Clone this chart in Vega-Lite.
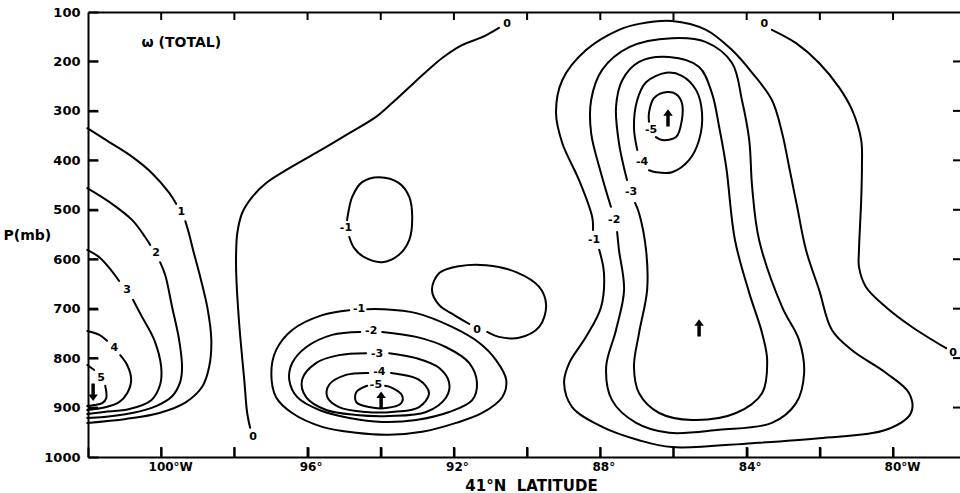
{
"$schema": "https://vega.github.io/schema/vega-lite/v6.json",
"autosize": "none",
"width": 872,
"height": 445,
"padding": {"left": 88, "top": 12, "right": 0, "bottom": 36},
"background": "white",
"config": {
  "view": {"stroke": null},
  "axis": {"gridOpacity": 0, "domainColor": "black", "tickColor": "black", "labelColor": "black", "titleColor": "black", "labelFont": "DejaVu Sans", "titleFont": "DejaVu Sans", "labelFontWeight": "bold", "titleFontWeight": "bold", "domainWidth": 2, "tickWidth": 2}
},
"datasets": {
  "lines": [
    {"seg":"c1a","i":0,"lon":102.02,"p":335},{"seg":"c1a","i":1,"lon":101.42,"p":363},{"seg":"c1a","i":2,"lon":100.79,"p":393},{"seg":"c1a","i":3,"lon":100.25,"p":426},{"seg":"c1a","i":4,"lon":99.78,"p":466},{"seg":"c1a","i":5,"lon":99.59,"p":488},
    {"seg":"c1b","i":0,"lon":99.34,"p":523},{"seg":"c1b","i":1,"lon":99.23,"p":551},{"seg":"c1b","i":2,"lon":99.13,"p":581},{"seg":"c1b","i":3,"lon":98.96,"p":628},{"seg":"c1b","i":4,"lon":98.74,"p":697},{"seg":"c1b","i":5,"lon":98.63,"p":763},{"seg":"c1b","i":6,"lon":98.69,"p":818},{"seg":"c1b","i":7,"lon":98.88,"p":858},{"seg":"c1b","i":8,"lon":99.32,"p":889},{"seg":"c1b","i":9,"lon":100.05,"p":911},{"seg":"c1b","i":10,"lon":100.96,"p":923},{"seg":"c1b","i":11,"lon":102.02,"p":931},
    {"seg":"c2a","i":0,"lon":102.02,"p":456},{"seg":"c2a","i":1,"lon":101.42,"p":484},{"seg":"c2a","i":2,"lon":100.79,"p":521},{"seg":"c2a","i":3,"lon":100.44,"p":555},{"seg":"c2a","i":4,"lon":100.30,"p":571},
    {"seg":"c2b","i":0,"lon":100.03,"p":606},{"seg":"c2b","i":1,"lon":99.89,"p":632},{"seg":"c2b","i":2,"lon":99.70,"p":697},{"seg":"c2b","i":3,"lon":99.51,"p":763},{"seg":"c2b","i":4,"lon":99.43,"p":818},{"seg":"c2b","i":5,"lon":99.48,"p":848},{"seg":"c2b","i":6,"lon":99.70,"p":877},{"seg":"c2b","i":7,"lon":100.14,"p":897},{"seg":"c2b","i":8,"lon":100.79,"p":911},{"seg":"c2b","i":9,"lon":101.56,"p":919},{"seg":"c2b","i":10,"lon":102.02,"p":921},
    {"seg":"c3a","i":0,"lon":102.02,"p":581},{"seg":"c3a","i":1,"lon":101.69,"p":596},{"seg":"c3a","i":2,"lon":101.37,"p":622},{"seg":"c3a","i":3,"lon":101.15,"p":644},
    {"seg":"c3b","i":0,"lon":100.77,"p":682},{"seg":"c3b","i":1,"lon":100.55,"p":713},{"seg":"c3b","i":2,"lon":100.19,"p":763},{"seg":"c3b","i":3,"lon":100.00,"p":818},{"seg":"c3b","i":4,"lon":100.03,"p":854},{"seg":"c3b","i":5,"lon":100.27,"p":885},{"seg":"c3b","i":6,"lon":100.87,"p":903},{"seg":"c3b","i":7,"lon":101.56,"p":909},{"seg":"c3b","i":8,"lon":102.02,"p":913},
    {"seg":"c4a","i":0,"lon":102.02,"p":745},{"seg":"c4a","i":1,"lon":101.69,"p":753},{"seg":"c4a","i":2,"lon":101.48,"p":765},
    {"seg":"c4b","i":0,"lon":101.12,"p":794},{"seg":"c4b","i":1,"lon":100.93,"p":814},{"seg":"c4b","i":2,"lon":100.82,"p":844},{"seg":"c4b","i":3,"lon":100.93,"p":871},{"seg":"c4b","i":4,"lon":101.15,"p":889},{"seg":"c4b","i":5,"lon":101.50,"p":899},{"seg":"c4b","i":6,"lon":102.02,"p":905},
    {"seg":"c5a","i":0,"lon":102.02,"p":814},{"seg":"c5a","i":1,"lon":101.83,"p":824},
    {"seg":"c5b","i":0,"lon":101.53,"p":856},{"seg":"c5b","i":1,"lon":101.50,"p":881},{"seg":"c5b","i":2,"lon":101.61,"p":891},{"seg":"c5b","i":3,"lon":101.83,"p":895},{"seg":"c5b","i":4,"lon":102.02,"p":897},
    {"seg":"z0L","i":0,"lon":97.57,"p":941},{"seg":"z0L","i":1,"lon":97.65,"p":911},{"seg":"z0L","i":2,"lon":97.73,"p":844},{"seg":"z0L","i":3,"lon":97.87,"p":729},{"seg":"z0L","i":4,"lon":97.95,"p":628},{"seg":"z0L","i":5,"lon":97.95,"p":581},{"seg":"z0L","i":6,"lon":97.92,"p":547},{"seg":"z0L","i":7,"lon":97.79,"p":507},{"seg":"z0L","i":8,"lon":97.51,"p":474},{"seg":"z0L","i":9,"lon":97.13,"p":446},{"seg":"z0L","i":10,"lon":96.59,"p":420},{"seg":"z0L","i":11,"lon":95.77,"p":385},{"seg":"z0L","i":12,"lon":94.86,"p":345},{"seg":"z0L","i":13,"lon":94.13,"p":312},{"seg":"z0L","i":14,"lon":93.69,"p":284},{"seg":"z0L","i":15,"lon":93.22,"p":252},{"seg":"z0L","i":16,"lon":92.76,"p":221},{"seg":"z0L","i":17,"lon":92.32,"p":193},{"seg":"z0L","i":18,"lon":91.78,"p":167},{"seg":"z0L","i":19,"lon":91.23,"p":151},{"seg":"z0L","i":20,"lon":90.77,"p":132},
    {"seg":"m1U","i":0,"lon":94.86,"p":555},{"seg":"m1U","i":1,"lon":94.73,"p":577},{"seg":"m1U","i":2,"lon":94.45,"p":596},{"seg":"m1U","i":3,"lon":93.96,"p":606},{"seg":"m1U","i":4,"lon":93.50,"p":591},{"seg":"m1U","i":5,"lon":93.22,"p":561},{"seg":"m1U","i":6,"lon":93.14,"p":515},{"seg":"m1U","i":7,"lon":93.22,"p":474},{"seg":"m1U","i":8,"lon":93.50,"p":446},{"seg":"m1U","i":9,"lon":94.04,"p":434},{"seg":"m1U","i":10,"lon":94.51,"p":444},{"seg":"m1U","i":11,"lon":94.78,"p":474},{"seg":"m1U","i":12,"lon":94.89,"p":507},{"seg":"m1U","i":13,"lon":94.92,"p":521},
    {"seg":"z0M","i":0,"lon":91.58,"p":731},{"seg":"z0M","i":1,"lon":91.99,"p":713},{"seg":"z0M","i":2,"lon":92.40,"p":693},{"seg":"z0M","i":3,"lon":92.60,"p":662},{"seg":"z0M","i":4,"lon":92.40,"p":628},{"seg":"z0M","i":5,"lon":91.86,"p":614},{"seg":"z0M","i":6,"lon":91.12,"p":612},{"seg":"z0M","i":7,"lon":90.30,"p":626},{"seg":"z0M","i":8,"lon":89.67,"p":656},{"seg":"z0M","i":9,"lon":89.48,"p":693},{"seg":"z0M","i":10,"lon":89.67,"p":737},{"seg":"z0M","i":11,"lon":90.22,"p":759},{"seg":"z0M","i":12,"lon":90.77,"p":757},{"seg":"z0M","i":13,"lon":91.09,"p":747},
    {"seg":"m1L","i":0,"lon":94.37,"p":701},{"seg":"m1L","i":1,"lon":93.96,"p":701},{"seg":"m1L","i":2,"lon":93.03,"p":709},{"seg":"m1L","i":3,"lon":92.05,"p":737},{"seg":"m1L","i":4,"lon":91.31,"p":769},{"seg":"m1L","i":5,"lon":90.85,"p":804},{"seg":"m1L","i":6,"lon":90.57,"p":844},{"seg":"m1L","i":7,"lon":90.68,"p":879},{"seg":"m1L","i":8,"lon":91.23,"p":911},{"seg":"m1L","i":9,"lon":91.94,"p":931},{"seg":"m1L","i":10,"lon":92.87,"p":949},{"seg":"m1L","i":11,"lon":93.77,"p":955},{"seg":"m1L","i":12,"lon":94.67,"p":951},{"seg":"m1L","i":13,"lon":95.60,"p":939},{"seg":"m1L","i":14,"lon":96.42,"p":911},{"seg":"m1L","i":15,"lon":96.86,"p":879},{"seg":"m1L","i":16,"lon":96.99,"p":830},{"seg":"m1L","i":17,"lon":96.86,"p":784},{"seg":"m1L","i":18,"lon":96.42,"p":743},{"seg":"m1L","i":19,"lon":95.60,"p":713},{"seg":"m1L","i":20,"lon":94.86,"p":703},
    {"seg":"m2L","i":0,"lon":93.96,"p":747},{"seg":"m2L","i":1,"lon":93.03,"p":757},{"seg":"m2L","i":2,"lon":92.21,"p":778},{"seg":"m2L","i":3,"lon":91.58,"p":810},{"seg":"m2L","i":4,"lon":91.37,"p":850},{"seg":"m2L","i":5,"lon":91.50,"p":885},{"seg":"m2L","i":6,"lon":92.13,"p":909},{"seg":"m2L","i":7,"lon":93.03,"p":925},{"seg":"m2L","i":8,"lon":93.96,"p":929},{"seg":"m2L","i":9,"lon":94.86,"p":921},{"seg":"m2L","i":10,"lon":95.68,"p":905},{"seg":"m2L","i":11,"lon":96.28,"p":879},{"seg":"m2L","i":12,"lon":96.50,"p":844},{"seg":"m2L","i":13,"lon":96.42,"p":810},{"seg":"m2L","i":14,"lon":96.04,"p":778},{"seg":"m2L","i":15,"lon":95.33,"p":753},{"seg":"m2L","i":16,"lon":94.56,"p":747},
    {"seg":"m3L","i":0,"lon":93.77,"p":790},{"seg":"m3L","i":1,"lon":93.03,"p":800},{"seg":"m3L","i":2,"lon":92.40,"p":820},{"seg":"m3L","i":3,"lon":92.13,"p":850},{"seg":"m3L","i":4,"lon":92.21,"p":879},{"seg":"m3L","i":5,"lon":92.76,"p":909},{"seg":"m3L","i":6,"lon":93.77,"p":917},{"seg":"m3L","i":7,"lon":94.67,"p":915},{"seg":"m3L","i":8,"lon":95.49,"p":905},{"seg":"m3L","i":9,"lon":96.04,"p":879},{"seg":"m3L","i":10,"lon":96.15,"p":844},{"seg":"m3L","i":11,"lon":95.77,"p":810},{"seg":"m3L","i":12,"lon":95.14,"p":794},{"seg":"m3L","i":13,"lon":94.40,"p":790},
    {"seg":"m4L","i":0,"lon":93.72,"p":830},{"seg":"m4L","i":1,"lon":92.95,"p":844},{"seg":"m4L","i":2,"lon":92.68,"p":871},{"seg":"m4L","i":3,"lon":92.95,"p":899},{"seg":"m4L","i":4,"lon":93.69,"p":909},{"seg":"m4L","i":5,"lon":94.40,"p":909},{"seg":"m4L","i":6,"lon":95.14,"p":899},{"seg":"m4L","i":7,"lon":95.46,"p":879},{"seg":"m4L","i":8,"lon":95.41,"p":854},{"seg":"m4L","i":9,"lon":94.95,"p":834},{"seg":"m4L","i":10,"lon":94.34,"p":830},
    {"seg":"m5L","i":0,"lon":93.88,"p":856},{"seg":"m5L","i":1,"lon":93.69,"p":860},{"seg":"m5L","i":2,"lon":93.42,"p":875},{"seg":"m5L","i":3,"lon":93.44,"p":891},{"seg":"m5L","i":4,"lon":93.85,"p":901},{"seg":"m5L","i":5,"lon":94.32,"p":899},{"seg":"m5L","i":6,"lon":94.67,"p":889},{"seg":"m5L","i":7,"lon":94.67,"p":869},{"seg":"m5L","i":8,"lon":94.37,"p":856},
    {"seg":"m1R","i":0,"lon":88.03,"p":581},{"seg":"m1R","i":1,"lon":87.90,"p":628},{"seg":"m1R","i":2,"lon":87.98,"p":697},{"seg":"m1R","i":3,"lon":88.39,"p":757},{"seg":"m1R","i":4,"lon":88.85,"p":810},{"seg":"m1R","i":5,"lon":88.99,"p":850},{"seg":"m1R","i":6,"lon":88.77,"p":899},{"seg":"m1R","i":7,"lon":87.95,"p":939},{"seg":"m1R","i":8,"lon":86.94,"p":966},{"seg":"m1R","i":9,"lon":86.04,"p":980},{"seg":"m1R","i":10,"lon":83.85,"p":972},{"seg":"m1R","i":11,"lon":82.02,"p":962},{"seg":"m1R","i":12,"lon":80.19,"p":945},{"seg":"m1R","i":13,"lon":79.51,"p":911},{"seg":"m1R","i":14,"lon":79.56,"p":871},{"seg":"m1R","i":15,"lon":80.19,"p":830},{"seg":"m1R","i":16,"lon":81.12,"p":784},{"seg":"m1R","i":17,"lon":81.67,"p":743},{"seg":"m1R","i":18,"lon":82.02,"p":662},{"seg":"m1R","i":19,"lon":82.38,"p":581},{"seg":"m1R","i":20,"lon":82.62,"p":494},{"seg":"m1R","i":21,"lon":82.84,"p":413},{"seg":"m1R","i":22,"lon":83.03,"p":345},{"seg":"m1R","i":23,"lon":83.31,"p":278},{"seg":"m1R","i":24,"lon":83.85,"p":223},{"seg":"m1R","i":25,"lon":84.40,"p":177},{"seg":"m1R","i":26,"lon":85.11,"p":136},{"seg":"m1R","i":27,"lon":86.04,"p":118},{"seg":"m1R","i":28,"lon":86.94,"p":124},{"seg":"m1R","i":29,"lon":87.49,"p":136},{"seg":"m1R","i":30,"lon":88.39,"p":177},{"seg":"m1R","i":31,"lon":89.04,"p":238},{"seg":"m1R","i":32,"lon":89.21,"p":304},{"seg":"m1R","i":33,"lon":89.04,"p":365},{"seg":"m1R","i":34,"lon":88.58,"p":440},{"seg":"m1R","i":35,"lon":88.22,"p":515},{"seg":"m1R","i":36,"lon":88.20,"p":541},
    {"seg":"m2R","i":0,"lon":87.54,"p":545},{"seg":"m2R","i":1,"lon":87.49,"p":581},{"seg":"m2R","i":2,"lon":87.35,"p":662},{"seg":"m2R","i":3,"lon":87.57,"p":743},{"seg":"m2R","i":4,"lon":87.84,"p":818},{"seg":"m2R","i":5,"lon":87.68,"p":885},{"seg":"m2R","i":6,"lon":87.02,"p":931},{"seg":"m2R","i":7,"lon":86.12,"p":951},{"seg":"m2R","i":8,"lon":84.75,"p":945},{"seg":"m2R","i":9,"lon":83.31,"p":931},{"seg":"m2R","i":10,"lon":82.65,"p":891},{"seg":"m2R","i":11,"lon":82.43,"p":830},{"seg":"m2R","i":12,"lon":82.57,"p":763},{"seg":"m2R","i":13,"lon":83.03,"p":697},{"seg":"m2R","i":14,"lon":83.66,"p":561},{"seg":"m2R","i":15,"lon":83.85,"p":454},{"seg":"m2R","i":16,"lon":83.93,"p":359},{"seg":"m2R","i":17,"lon":84.13,"p":278},{"seg":"m2R","i":18,"lon":84.40,"p":203},{"seg":"m2R","i":19,"lon":85.11,"p":161},{"seg":"m2R","i":20,"lon":86.04,"p":153},{"seg":"m2R","i":21,"lon":87.21,"p":171},{"seg":"m2R","i":22,"lon":87.95,"p":217},{"seg":"m2R","i":23,"lon":88.25,"p":278},{"seg":"m2R","i":24,"lon":88.25,"p":345},{"seg":"m2R","i":25,"lon":87.98,"p":426},{"seg":"m2R","i":26,"lon":87.71,"p":494},
    {"seg":"m3R","i":0,"lon":87.05,"p":486},{"seg":"m3R","i":1,"lon":86.94,"p":507},{"seg":"m3R","i":2,"lon":86.75,"p":581},{"seg":"m3R","i":3,"lon":86.72,"p":662},{"seg":"m3R","i":4,"lon":86.94,"p":749},{"seg":"m3R","i":5,"lon":87.08,"p":818},{"seg":"m3R","i":6,"lon":86.94,"p":871},{"seg":"m3R","i":7,"lon":86.39,"p":911},{"seg":"m3R","i":8,"lon":85.49,"p":925},{"seg":"m3R","i":9,"lon":84.29,"p":911},{"seg":"m3R","i":10,"lon":83.58,"p":871},{"seg":"m3R","i":11,"lon":83.44,"p":804},{"seg":"m3R","i":12,"lon":83.58,"p":749},{"seg":"m3R","i":13,"lon":83.93,"p":668},{"seg":"m3R","i":14,"lon":84.32,"p":561},{"seg":"m3R","i":15,"lon":84.56,"p":413},{"seg":"m3R","i":16,"lon":84.75,"p":333},{"seg":"m3R","i":17,"lon":84.95,"p":264},{"seg":"m3R","i":18,"lon":85.30,"p":211},{"seg":"m3R","i":19,"lon":86.12,"p":191},{"seg":"m3R","i":20,"lon":86.94,"p":201},{"seg":"m3R","i":21,"lon":87.40,"p":238},{"seg":"m3R","i":22,"lon":87.57,"p":292},{"seg":"m3R","i":23,"lon":87.49,"p":365},{"seg":"m3R","i":24,"lon":87.27,"p":440},
    {"seg":"m4R","i":0,"lon":86.67,"p":420},{"seg":"m4R","i":1,"lon":86.48,"p":424},{"seg":"m4R","i":2,"lon":86.04,"p":424},{"seg":"m4R","i":3,"lon":85.57,"p":399},{"seg":"m4R","i":4,"lon":85.30,"p":359},{"seg":"m4R","i":5,"lon":85.22,"p":304},{"seg":"m4R","i":6,"lon":85.38,"p":258},{"seg":"m4R","i":7,"lon":85.77,"p":229},{"seg":"m4R","i":8,"lon":86.20,"p":223},{"seg":"m4R","i":9,"lon":86.75,"p":242},{"seg":"m4R","i":10,"lon":86.99,"p":278},{"seg":"m4R","i":11,"lon":87.08,"p":333},{"seg":"m4R","i":12,"lon":86.99,"p":379},
    {"seg":"m5R","i":0,"lon":86.48,"p":353},{"seg":"m5R","i":1,"lon":86.31,"p":359},{"seg":"m5R","i":2,"lon":85.93,"p":353},{"seg":"m5R","i":3,"lon":85.77,"p":318},{"seg":"m5R","i":4,"lon":85.77,"p":284},{"seg":"m5R","i":5,"lon":85.93,"p":266},{"seg":"m5R","i":6,"lon":86.18,"p":262},{"seg":"m5R","i":7,"lon":86.53,"p":274},{"seg":"m5R","i":8,"lon":86.67,"p":304},{"seg":"m5R","i":9,"lon":86.67,"p":322},
    {"seg":"z0R","i":0,"lon":83.31,"p":136},{"seg":"z0R","i":1,"lon":82.65,"p":163},{"seg":"z0R","i":2,"lon":82.02,"p":203},{"seg":"z0R","i":3,"lon":81.48,"p":252},{"seg":"z0R","i":4,"lon":81.12,"p":298},{"seg":"z0R","i":5,"lon":80.87,"p":359},{"seg":"z0R","i":6,"lon":80.85,"p":413},{"seg":"z0R","i":7,"lon":80.87,"p":480},{"seg":"z0R","i":8,"lon":80.93,"p":581},{"seg":"z0R","i":9,"lon":80.93,"p":616},{"seg":"z0R","i":10,"lon":80.74,"p":656},{"seg":"z0R","i":11,"lon":80.19,"p":697},{"seg":"z0R","i":12,"lon":79.48,"p":737},{"seg":"z0R","i":13,"lon":78.55,"p":780}
  ],
  "labels": [
    {"label":"1","lon":99.45,"p":504},{"label":"2","lon":100.14,"p":587},{"label":"3","lon":100.93,"p":662},{"label":"4","lon":101.28,"p":780},{"label":"5","lon":101.64,"p":840},
    {"label":"0","lon":97.49,"p":960},{"label":"0","lon":90.55,"p":124},{"label":"-1","lon":94.95,"p":537},{"label":"0","lon":91.37,"p":743},
    {"label":"-1","lon":94.59,"p":701},{"label":"-2","lon":94.26,"p":745},{"label":"-3","lon":94.10,"p":792},{"label":"-4","lon":94.04,"p":828},{"label":"-5","lon":94.13,"p":854},
    {"label":"-1","lon":88.17,"p":561},{"label":"-2","lon":87.62,"p":521},{"label":"-3","lon":87.16,"p":464},{"label":"-4","lon":86.86,"p":403},{"label":"-5","lon":86.61,"p":339},
    {"label":"0","lon":83.52,"p":124},{"label":"0","lon":78.36,"p":790}
  ],
  "arrows": [
    {"dir":"up","lon":86.15,"p":314},{"dir":"up","lon":85.30,"p":739},{"dir":"up","lon":93.99,"p":885},{"dir":"down","lon":101.86,"p":869}
  ],
  "notes": [
    {"note":"ω (TOTAL)","lon":99.45,"p":163}
  ],
  "xticks": [{"lon":80},{"lon":82},{"lon":84},{"lon":86},{"lon":88},{"lon":90},{"lon":92},{"lon":94},{"lon":96},{"lon":98},{"lon":100}],
  "yticks": [{"p":200},{"p":300},{"p":400},{"p":500},{"p":600},{"p":700},{"p":800},{"p":900}]
},
"layer": [
  {
    "data": {"name": "lines"},
    "mark": {"type": "line", "interpolate": "catmull-rom", "color": "black", "strokeWidth": 2, "strokeCap": "round"},
    "encoding": {
      "x": {"field": "lon", "type": "quantitative",
        "scale": {"domain": [78.17, 102], "reverse": true, "zero": false, "nice": false},
        "axis": {"orient": "bottom", "offset": -10, "domain": false, "ticks": true, "tickColor": "black", "tickWidth": 2, "tickOpacity": 1, "values": [80,82,84,86,88,90,92,94,96,98,100,102], "tickSize": 10, "labelPadding": 4, "labelFontSize": 12, "labelFlush": false, "labelOverlap": false, "labelBound": false,
          "labelExpr": "datum.value == 100 ? '100°W' : datum.value == 80 ? '80°W' : (datum.value % 4 == 0 ? datum.value + '°' : '')",
          "labelOffset": {"expr": "datum.value == 100 || datum.value == 80 ? 9 : 3"},
          "title": "41°N\u00a0\u00a0LATITUDE", "titleFontSize": 15, "titleX": 443, "titleY": 38, "titleAlign": "center", "titleBaseline": "middle"}},
      "y": {"field": "p", "type": "quantitative",
        "scale": {"domain": [100, 1000], "reverse": true, "zero": false, "nice": false},
        "axis": {"orient": "left", "offset": -10, "domain": false, "ticks": true, "tickColor": "black", "tickWidth": 2, "tickOpacity": 1, "values": [100,200,300,400,500,600,700,800,900,1000], "format": "d", "tickSize": 10, "labelPadding": 8, "labelFontSize": 13, "labelFlush": false, "labelOverlap": false, "labelBound": false,
          "title": "P(mb)", "titleFontSize": 14, "titleAngle": 0, "titleX": -95, "titleY": 223, "titleAlign": "left", "titleBaseline": "middle"}},
      "detail": {"field": "seg"},
      "order": {"field": "i", "type": "quantitative"}
    }
  },
  {
    "data": {"name": "labels"},
    "mark": {"type": "text", "font": "DejaVu Sans", "fontWeight": "bold", "fontSize": 11, "color": "black", "align": "center", "baseline": "middle"},
    "encoding": {
      "x": {"field": "lon", "type": "quantitative", "axis": null},
      "y": {"field": "p", "type": "quantitative", "axis": null},
      "text": {"field": "label"}
    }
  },
  {
    "data": {"name": "arrows"},
    "mark": {"type": "point", "filled": true, "color": "black", "opacity": 1, "size": 300, "strokeWidth": 0},
    "encoding": {
      "x": {"field": "lon", "type": "quantitative", "axis": {"orient": "bottom", "domain": true, "ticks": false, "labels": false, "title": null}},
      "y": {"field": "p", "type": "quantitative", "axis": {"orient": "left", "domain": true, "ticks": false, "labels": false, "title": null}},
      "shape": {"field": "dir", "type": "nominal", "legend": null,
        "scale": {"domain": ["up", "down"], "range": ["M0,-1L0.55,-0.25L0.2,-0.25L0.2,1L-0.2,1L-0.2,-0.25L-0.55,-0.25Z", "M0,1L0.55,0.25L0.2,0.25L0.2,-1L-0.2,-1L-0.2,0.25L-0.55,0.25Z"]}}
    }
  },
  {
    "data": {"name": "notes"},
    "mark": {"type": "text", "font": "DejaVu Sans", "fontWeight": "bold", "fontSize": 14, "color": "black", "align": "center", "baseline": "middle"},
    "encoding": {
      "x": {"field": "lon", "type": "quantitative", "axis": {"orient": "top", "domain": true, "ticks": false, "labels": false, "title": null}},
      "y": {"field": "p", "type": "quantitative", "axis": null},
      "text": {"field": "note"}
    }
  },
  {
    "data": {"name": "xticks"},
    "mark": {"type": "tick", "orient": "vertical", "color": "black", "size": 10, "thickness": 2, "yOffset": -5, "opacity": 1},
    "encoding": {
      "x": {"field": "lon", "type": "quantitative", "axis": null},
      "y": {"datum": 1000, "type": "quantitative", "axis": null}
    }
  },
  {
    "data": {"name": "xticks"},
    "mark": {"type": "tick", "orient": "vertical", "color": "black", "size": 8, "thickness": 2, "yOffset": 4, "opacity": 1},
    "encoding": {
      "x": {"field": "lon", "type": "quantitative", "axis": null},
      "y": {"datum": 100, "type": "quantitative", "axis": null}
    }
  },
  {
    "data": {"name": "yticks"},
    "mark": {"type": "tick", "orient": "horizontal", "color": "black", "size": 10, "thickness": 2, "xOffset": 5, "opacity": 1},
    "encoding": {
      "y": {"field": "p", "type": "quantitative", "axis": null},
      "x": {"datum": 102, "type": "quantitative", "axis": null}
    }
  },
  {
    "data": {"name": "yticks"},
    "mark": {"type": "tick", "orient": "horizontal", "color": "black", "size": 7, "thickness": 2, "xOffset": -3.5, "opacity": 1},
    "encoding": {
      "y": {"field": "p", "type": "quantitative", "axis": null},
      "x": {"datum": 78.17, "type": "quantitative", "axis": null}
    }
  }
],
"resolve": {"axis": {"x": "independent", "y": "independent"}}
}
